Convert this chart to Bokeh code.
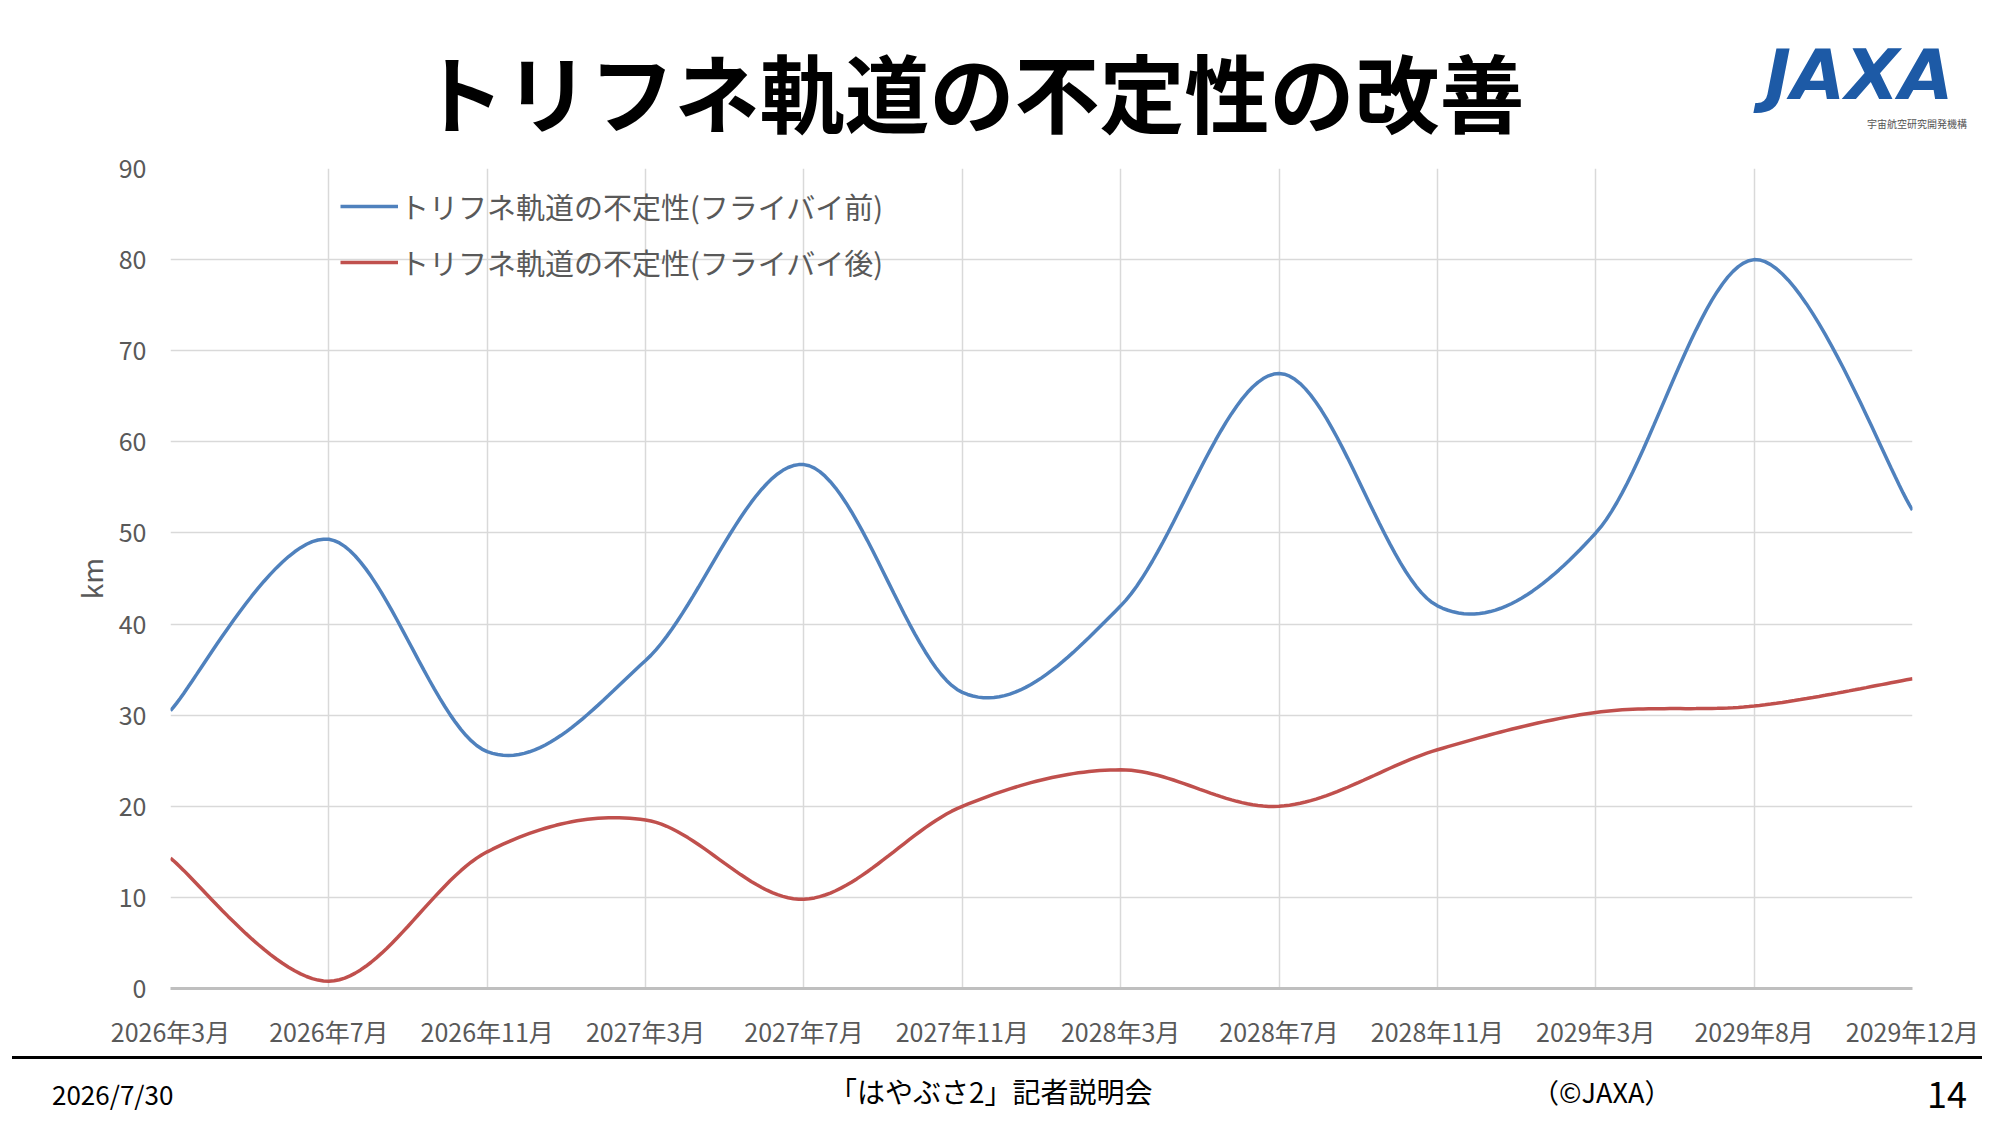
import numpy as np
from bokeh.plotting import figure
from bokeh.models import Range1d, Legend, LegendItem, FixedTicker, Div
from bokeh.layouts import column
from bokeh.embed import file_html
from bokeh.resources import INLINE

categories = ["2026年3月","2026年7月","2026年11月","2027年3月","2027年7月","2027年11月",
              "2028年3月","2028年7月","2028年11月","2029年3月","2029年8月","2029年12月"]
before = [30.5, 49.3, 26.0, 36.0, 57.5, 32.5, 42.0, 67.5, 42.0, 50.0, 80.0, 52.5]
after = [14.3, 0.8, 15.0, 18.5, 9.8, 20.0, 24.0, 20.0, 26.2, 30.3, 31.0, 34.0]
y_ticks = [0, 10, 20, 30, 40, 50, 60, 70, 80, 90]

def smooth(ys, n=30):
    # Catmull-Rom rendering of the smoothed line (like Excel's smoothed line)
    pts = np.array(ys, float)
    xs_out, ys_out = [], []
    N = len(pts)
    for i in range(N - 1):
        p0 = pts[max(i - 1, 0)]; p1 = pts[i]; p2 = pts[i + 1]; p3 = pts[min(i + 2, N - 1)]
        x0 = max(i - 1, 0); x3 = min(i + 2, N - 1)
        for t in np.linspace(0, 1, n, endpoint=False):
            t2, t3 = t * t, t * t * t
            f = lambda a, b, c, d: 0.5 * (2 * b + (-a + c) * t + (2 * a - 5 * b + 4 * c - d) * t2 + (-a + 3 * b - 3 * c + d) * t3)
            xs_out.append(f(x0, i, i + 1, x3)); ys_out.append(f(p0, p1, p2, p3))
    xs_out.append(N - 1); ys_out.append(pts[-1])
    return xs_out, ys_out

W = 1983
TOP = 138
header = Div(width=W, height=TOP, text="""
<div style="width:1983px;height:138px;position:relative;">
 <div style="position:absolute;left:0;width:1934px;top:35px;text-align:center;
  font-family:'Noto Sans CJK JP';font-weight:bold;font-size:85px;line-height:100px;color:black;">トリフネ軌道の不定性の改善</div>
 <div style="position:absolute;left:1760px;top:30px;font-family:'DejaVu Sans';font-weight:bold;font-style:italic;
  font-size:70px;line-height:80px;color:#1d5aa6;">JAXA</div>
 <div style="position:absolute;left:1862px;top:112px;font-family:'Noto Sans CJK JP';font-size:10px;color:#555;">宇宙航空研究開発機構</div>
</div>""")

p = figure(width=W, height=1041 - TOP, output_backend="svg", toolbar_location=None,
           x_range=Range1d(0, 11), y_range=Range1d(0, 90),
           min_border_left=170, min_border_right=71, min_border_top=20, min_border_bottom=57)
p.outline_line_color = None
p.background_fill_color = "white"

bx, by = smooth(before)
ax_, ay = smooth(after)
r1 = p.line(bx, by, line_color="#4f81bd", line_width=3.5)
r2 = p.line(ax_, ay, line_color="#c0504d", line_width=3.5)

p.xaxis.ticker = FixedTicker(ticks=list(range(len(categories))))
p.xaxis.major_label_overrides = {i: c for i, c in enumerate(categories)}
p.yaxis.ticker = FixedTicker(ticks=y_ticks)
for ax in (p.xaxis, p.yaxis):
    ax.major_label_text_font = "Noto Sans CJK JP"
    ax.major_label_text_font_size = "25px"
    ax.major_label_text_color = "#595959"
    ax.major_tick_line_color = None
    ax.minor_tick_line_color = None
p.xaxis.axis_line_color = "#bfbfbf"
p.xaxis.axis_line_width = 3
p.xaxis.major_label_standoff = 18
p.yaxis.axis_line_color = None
p.yaxis.major_label_standoff = 18
p.yaxis.axis_label = "km"
p.yaxis.axis_label_text_font = "Noto Sans CJK JP"
p.yaxis.axis_label_text_font_size = "28px"
p.yaxis.axis_label_text_font_style = "normal"
p.yaxis.axis_label_text_color = "#595959"
p.xgrid.grid_line_color = "#d9d9d9"
p.ygrid.grid_line_color = "#d9d9d9"
p.xgrid.grid_line_width = 1.5
p.ygrid.grid_line_width = 1.5

legend = Legend(items=[LegendItem(label="トリフネ軌道の不定性(フライバイ前)", renderers=[r1]),
                       LegendItem(label="トリフネ軌道の不定性(フライバイ後)", renderers=[r2])],
                location=(170, 705), border_line_color=None, background_fill_alpha=0,
                label_text_font="Noto Sans CJK JP", label_text_font_size="29px",
                label_text_color="#595959", glyph_width=58, label_standoff=2,
                spacing=14, padding=4, margin=0)
p.add_layout(legend)

footer = Div(width=W, height=60, text="""
<div style="width:1970px;border-top:3px solid black;margin-left:7px;position:relative;height:56px;
 font-family:'Noto Sans CJK JP';color:black;">
 <span style="position:absolute;left:40px;top:16px;font-size:26px;">2026/7/30</span>
 <span style="position:absolute;left:817px;top:12px;font-size:28px;">「はやぶさ2」記者説明会</span>
 <span style="position:absolute;left:1520px;top:14px;font-size:27px;">（©JAXA）</span>
 <span style="position:absolute;left:1915px;top:8px;font-size:36px;">14</span>
</div>""")

open("out.html", "w").write(file_html(column(header, p, footer, spacing=0), INLINE))
